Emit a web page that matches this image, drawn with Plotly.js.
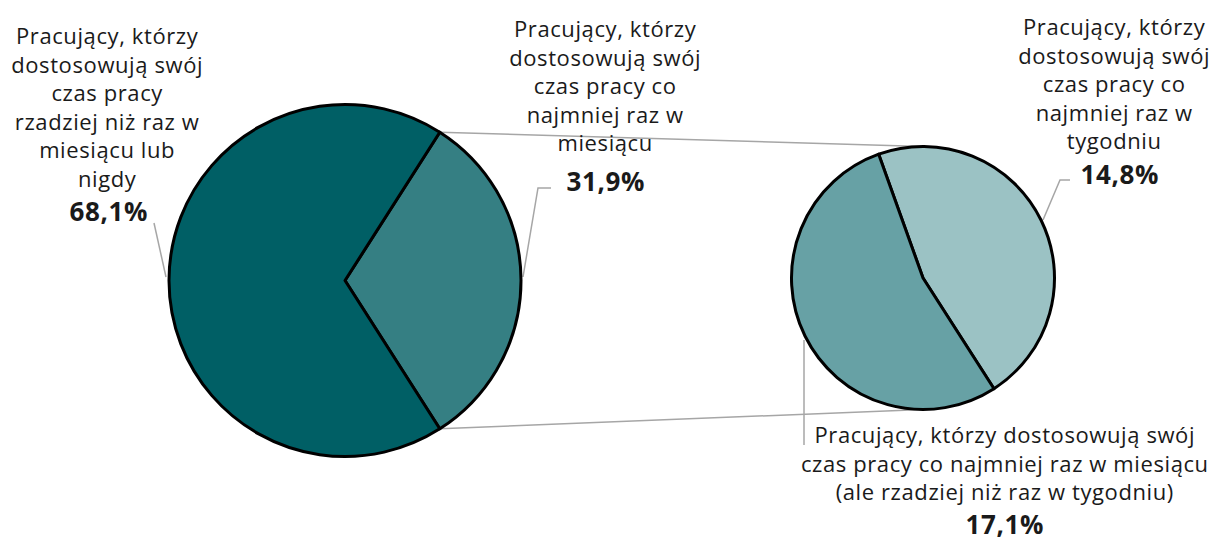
<!DOCTYPE html>
<html>
<head>
<meta charset="utf-8">
<script src="https://cdn.plot.ly/plotly-3.0.1.min.js"></script>
<style>
html,body{margin:0;padding:0;background:#fff}
#chart{width:1222px;height:541px}
#chart .annotation-text{letter-spacing:0.6px}
</style>
</head>
<body>
<div id="chart"></div>
<script>
// ---- data ----
const mainLabels = ['Co najmniej raz w miesiącu', 'Rzadziej niż raz w miesiącu lub nigdy'];
const mainValues = [31.9, 68.1];
const subLabels = ['Co najmniej raz w tygodniu', 'Co najmniej raz w miesiącu (ale rzadziej niż raz w tygodniu)'];
const subValues = [14.8, 17.1];

const textLeft = ['Pracujący, którzy', 'dostosowują swój', 'czas pracy', 'rzadziej niż raz w', 'miesiącu lub', 'nigdy'];
const textMiddle = ['Pracujący, którzy', 'dostosowują swój', 'czas pracy co', 'najmniej raz w', 'miesiącu'];
const textRight = ['Pracujący, którzy', 'dostosowują swój', 'czas pracy co', 'najmniej raz w', 'tygodniu'];
const textBottom = ['Pracujący, którzy dostosowują swój', 'czas pracy co najmniej raz w miesiącu', '(ale rzadziej niż raz w tygodniu)'];

// ---- styles / geometry ----
const W = 1222, H = 541;
const FONT = '"Open Sans", "Noto Sans", sans-serif';
const TXT = '#1a1a1a';
const GREY = '#a6a6a6';
const mainColors = ['#357f83', '#005f65'];
const subColors = ['#9bc2c4', '#67a1a5'];
const mainC = {x: 345, y: 280.5, r: 176};
const subC = {x: 923, y: 278, r: 131.5};
const subRotation = -19.7;
const TS = 22, PS = 26;            // text / percentage font sizes
const ASC = 1.069;                 // font ascent (em)

const fx = x => x / W;
const fy = y => 1 - y / H;
const fmt = v => v.toFixed(1).replace('.', ',') + '%';
const mainTotal = mainValues.reduce((a, b) => a + b, 0);
const mainRotation = 90 - 360 * mainValues[0] / mainTotal / 2;

const traces = [
  {
    type: 'pie', values: mainValues, labels: mainLabels, sort: false,
    direction: 'clockwise', rotation: mainRotation,
    textinfo: 'none', hoverinfo: 'label+percent', showlegend: false,
    marker: {colors: mainColors, line: {color: '#000', width: 3}},
    domain: {x: [fx(mainC.x - mainC.r), fx(mainC.x + mainC.r)], y: [fy(mainC.y + mainC.r), fy(mainC.y - mainC.r)]}
  },
  {
    type: 'pie', values: subValues, labels: subLabels, sort: false,
    direction: 'clockwise', rotation: subRotation,
    textinfo: 'none', hoverinfo: 'label+percent', showlegend: false,
    marker: {colors: subColors, line: {color: '#000', width: 3}},
    domain: {x: [fx(subC.x - subC.r), fx(subC.x + subC.r)], y: [fy(subC.y + subC.r), fy(subC.y - subC.r)]}
  }
];

// connector endpoints computed from pie geometry
const a0 = mainRotation * Math.PI / 180;
const a1 = (mainRotation + 360 * mainValues[0] / mainTotal) * Math.PI / 180;
const p0 = [mainC.x + mainC.r * Math.sin(a0), mainC.y - mainC.r * Math.cos(a0)];
const p1 = [mainC.x + mainC.r * Math.sin(a1), mainC.y - mainC.r * Math.cos(a1)];

const line = {color: GREY, width: 1.5};
const seg = (x0, y0, x1, y1) => ({type: 'line', xref: 'paper', yref: 'paper', layer: 'below',
  x0: fx(x0), y0: fy(y0), x1: fx(x1), y1: fy(y1), line});
const path = pts => ({type: 'path', xref: 'paper', yref: 'paper', layer: 'below', line,
  path: pts.map((p, i) => (i ? 'L' : 'M') + fx(p[0]) + ',' + fy(p[1])).join(' ')});

const shapes = [
  seg(p0[0], p0[1], subC.x, subC.y - subC.r),
  seg(p1[0], p1[1], subC.x, subC.y + subC.r),
  path([[154, 223], [166, 277]]),
  path([[551, 188], [538, 188], [523, 277]]),
  path([[1070, 180], [1060, 180], [1043, 220]]),
  path([[804, 340], [804, 445]])
];

const annotations = [];
function addLabel(lines, cx, firstBase, pct, pcx, pctBase) {
  annotations.push({
    text: lines.join('<br>'), x: fx(cx), y: fy(firstBase - ASC * TS), xref: 'paper', yref: 'paper',
    xanchor: 'center', yanchor: 'top', align: 'center', showarrow: false, borderpad: 0,
    font: {family: FONT, size: TS, color: TXT}
  });
  annotations.push({
    text: '<b>' + pct + '</b>', x: fx(pcx), y: fy(pctBase - ASC * PS), xref: 'paper', yref: 'paper',
    xanchor: 'center', yanchor: 'top', showarrow: false, borderpad: 0,
    font: {family: FONT, size: PS, color: TXT}
  });
}
addLabel(textLeft, 107, 42.5, fmt(mainValues[1]), 108, 220);
addLabel(textMiddle, 605, 36, fmt(mainValues[0]), 605, 189.5);
addLabel(textRight, 1114, 34, fmt(subValues[0]), 1119, 183);
addLabel(textBottom, 1005, 441.5, fmt(subValues[1]), 1005, 533.2);

const layout = {
  width: W, height: H, margin: {l: 0, r: 0, t: 0, b: 0},
  paper_bgcolor: '#fff', plot_bgcolor: '#fff', showlegend: false,
  shapes, annotations
};
Plotly.newPlot('chart', traces, layout, {displayModeBar: false, staticPlot: true});
</script>
</body>
</html>
